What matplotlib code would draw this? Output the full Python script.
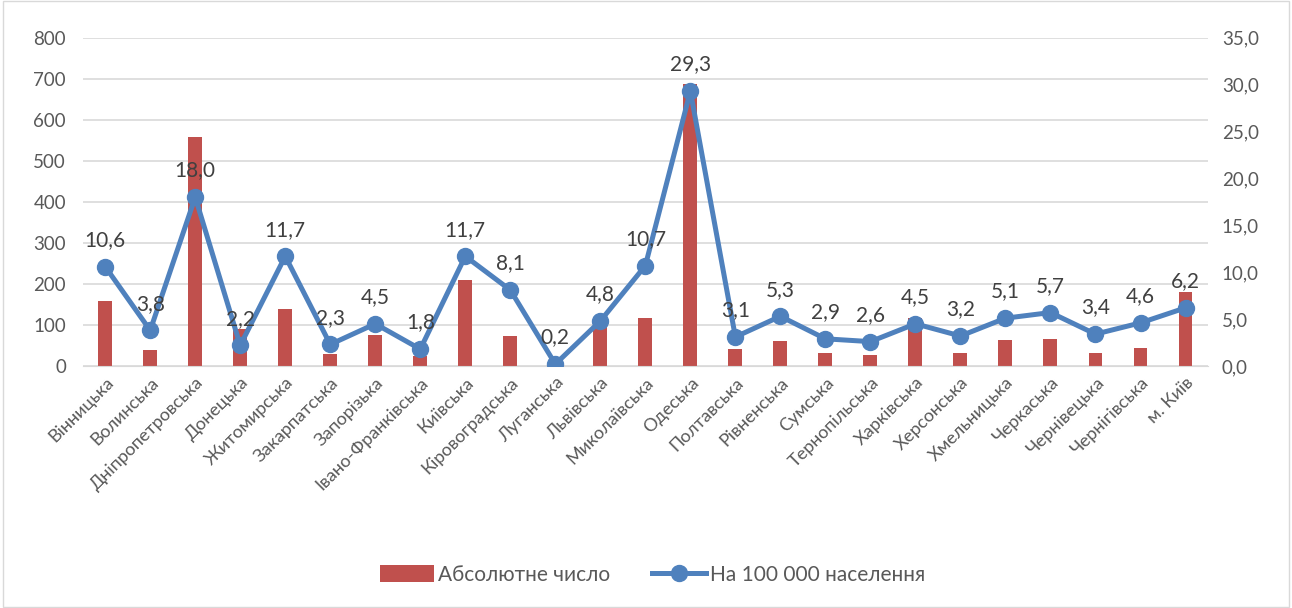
import matplotlib.pyplot as plt
import numpy as np
from matplotlib.ticker import FuncFormatter

plt.rcParams['font.family'] = ['Lato', 'DejaVu Sans']

regions = ["Вінницька", "Волинська", "Дніпропетровська", "Донецька", "Житомирська",
           "Закарпатська", "Запорізька", "Івано-Франківська", "Київська", "Кіровоградська",
           "Луганська", "Львівська", "Миколаївська", "Одеська", "Полтавська", "Рівненська",
           "Сумська", "Тернопільська", "Харківська", "Херсонська", "Хмельницька",
           "Черкаська", "Чернівецька", "Чернігівська", "м. Київ"]
absolute = [158, 39, 559, 90, 139, 30, 76, 24, 210, 74, 4, 110, 117, 688, 42, 61,
            31, 27, 118, 32, 63, 66, 31, 44, 180]
per_100k = [10.6, 3.8, 18.0, 2.2, 11.7, 2.3, 4.5, 1.8, 11.7, 8.1, 0.2, 4.8, 10.7, 29.3,
            3.1, 5.3, 2.9, 2.6, 4.5, 3.2, 5.1, 5.7, 3.4, 4.6, 6.2]

bar_color = "#C0504D"
line_color = "#4F81BD"
text_color = "#595959"

fig = plt.figure(figsize=(12.92, 6.08), dpi=100)
ax1 = fig.add_axes([0.064, 0.398, 0.871, 0.54])
ax2 = ax1.twinx()

x = np.arange(len(regions))

# bars - absolute numbers
ax1.bar(x, absolute, width=0.31, color=bar_color, zorder=2, label="Абсолютне число")
ax1.set_ylim(0, 800)
ax1.set_yticks(range(0, 801, 100))
ax1.set_xlim(-0.5, len(regions) - 0.5)
ax1.grid(axis="y", color="#D9D9D9", linewidth=1.2, zorder=0)
ax1.set_axisbelow(True)

# line - per 100 000
ax2.plot(x, per_100k, color=line_color, linewidth=3.6, marker="o", markersize=11.5,
         zorder=3, label="На 100 000 населення")
ax2.set_ylim(0, 35)
ax2.set_yticks(np.arange(0, 35.1, 5))
ax2.yaxis.set_major_formatter(FuncFormatter(lambda v, p: f"{v:.1f}".replace(".", ",")))

for xi, v in zip(x, per_100k):
    ax2.annotate(f"{v:.1f}".replace(".", ","), (xi, v), xytext=(0, 12),
                 textcoords="offset points", ha="center", va="bottom",
                 fontsize=15, color="#404040")

ax1.set_xticks(x)
ax1.set_xticklabels(regions, rotation=45, ha="right", rotation_mode="anchor",
                    fontsize=13, color=text_color)

for ax in (ax1, ax2):
    for s in ax.spines.values():
        s.set_visible(False)
    ax.tick_params(length=0, labelsize=13.5, labelcolor=text_color)
ax1.tick_params(axis="x", labelsize=13)
ax1.spines["bottom"].set_visible(True)
ax1.spines["bottom"].set_color("#D9D9D9")
ax1.tick_params(axis="y", pad=12)
ax2.tick_params(axis="y", pad=10)
ax1.tick_params(axis="x", pad=6)

h1, l1 = ax1.get_legend_handles_labels()
h2, l2 = ax2.get_legend_handles_labels()
fig.legend(h1 + h2, l1 + l2, loc="center", bbox_to_anchor=(0.505, 0.055), ncol=2,
           frameon=False, fontsize=15, labelcolor=text_color, handlelength=2.6,
           handleheight=0.9, columnspacing=2.0, handletextpad=0.2)

fig.patches.append(plt.Rectangle((0.002, 0.002), 0.996, 0.996, transform=fig.transFigure,
                                 fill=False, edgecolor="#D9D9D9", linewidth=1))

fig.savefig("out.png", dpi=100)
